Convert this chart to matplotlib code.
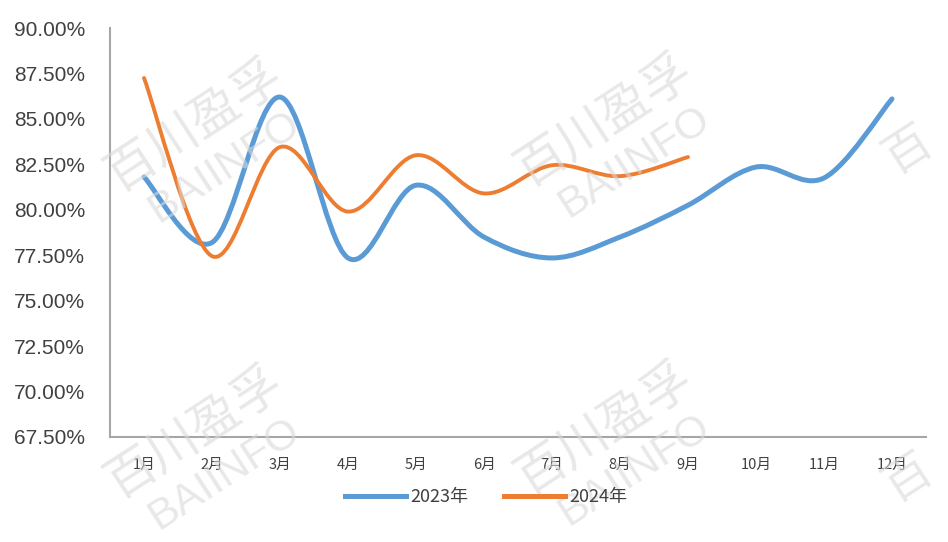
import numpy as np
import matplotlib
matplotlib.use("Agg")
import matplotlib.pyplot as plt
from matplotlib.path import Path
from matplotlib.patches import PathPatch
from matplotlib.ticker import FuncFormatter

plt.rcParams['font.family'] = ['Noto Sans CJK SC', 'DejaVu Sans']

months = ["1月", "2月", "3月", "4月", "5月", "6月", "7月", "8月", "9月", "10月", "11月", "12月"]
rate_2023 = [81.8, 78.2, 86.2, 77.35, 81.35, 78.5, 77.35, 78.5, 80.25, 82.35, 81.75, 86.1]
rate_2024 = [87.25, 77.45, 83.45, 79.9, 83.0, 80.9, 82.45, 81.85, 82.9]
yticks = [67.5, 70.0, 72.5, 75.0, 77.5, 80.0, 82.5, 85.0, 87.5, 90.0]


def smooth_path(xs, ys):
    # Excel-like smoothed line: cubic bezier through every point
    pts = np.column_stack([xs, ys]).astype(float)
    n = len(pts)
    verts = [pts[0]]
    codes = [Path.MOVETO]
    for i in range(n - 1):
        p0 = pts[i - 1] if i > 0 else pts[i]
        p1 = pts[i]
        p2 = pts[i + 1]
        p3 = pts[i + 2] if i + 2 < n else pts[i + 1]
        c1 = p1 + (p2 - p0) / 6.0
        c2 = p2 - (p3 - p1) / 6.0
        verts += [c1, c2, p2]
        codes += [Path.CURVE4] * 3
    return Path(verts, codes)


fig = plt.figure(figsize=(9.48, 5.42), dpi=100)
ax = fig.add_axes([110 / 948, 1 - 437 / 542, 816 / 948, 409 / 542])

x23 = np.arange(len(rate_2023))
x24 = np.arange(len(rate_2024))
ax.add_patch(PathPatch(smooth_path(x23, rate_2023), fill=False, edgecolor="#5B9BD5",
                       lw=3.6, capstyle="round", joinstyle="round", zorder=3))
ax.add_patch(PathPatch(smooth_path(x24, rate_2024), fill=False, edgecolor="#ED7D31",
                       lw=2.8, capstyle="round", joinstyle="round", zorder=4))

# legend handles
ax.plot([], [], color="#5B9BD5", lw=3.6, label="2023年")
ax.plot([], [], color="#ED7D31", lw=3.6, label="2024年")

ax.set_xlim(-0.5, 11.5)
ax.set_ylim(67.5, 90.0)
ax.set_xticks(range(len(months)))
ax.set_xticklabels(months, fontsize=10.5, color="#404040")
ax.set_yticks(yticks)
ax.yaxis.set_major_formatter(FuncFormatter(lambda v, p: f"{v:.2f}%"))
for lab in ax.get_yticklabels():
    lab.set_fontsize(15)
    lab.set_color("#404040")
    lab.set_family(["Liberation Sans", "DejaVu Sans"])
ax.tick_params(axis="both", length=0)
ax.tick_params(axis="x", pad=15)
ax.tick_params(axis="y", pad=18)

for s in ["top", "right"]:
    ax.spines[s].set_visible(False)
ax.spines["left"].set_color("#A6A6A6")
ax.spines["bottom"].set_color("#A6A6A6")
ax.spines["left"].set_linewidth(1.5)
ax.spines["bottom"].set_linewidth(1.5)

fig.legend(loc="center", bbox_to_anchor=(486 / 948, 1 - 497 / 542), ncol=2, frameon=False,
           fontsize=13, handlelength=3.4, columnspacing=2.0, handletextpad=0.2,
           labelcolor="#404040")

# watermarks
for wx, wy in [(195, 125), (605, 120), (195, 432), (605, 428)]:
    fig.text(wx / 948, 1 - wy / 542, "百川盈孚", fontsize=36, color="#D9D9D9", alpha=0.6,
             rotation=33, ha="center", va="center", zorder=0)
    fig.text((wx + 30) / 948, 1 - (wy + 42) / 542, "BAIINFO", fontsize=31, color="#D9D9D9",
             alpha=0.6, rotation=33, ha="center", va="center", zorder=0,
             family=["Liberation Sans", "DejaVu Sans"])
for wy in [150, 478]:
    fig.text(908 / 948, 1 - wy / 542, "百", fontsize=34, color="#D9D9D9", alpha=0.6,
             rotation=33, ha="center", va="center", zorder=0)

fig.savefig("out.png", dpi=100)
